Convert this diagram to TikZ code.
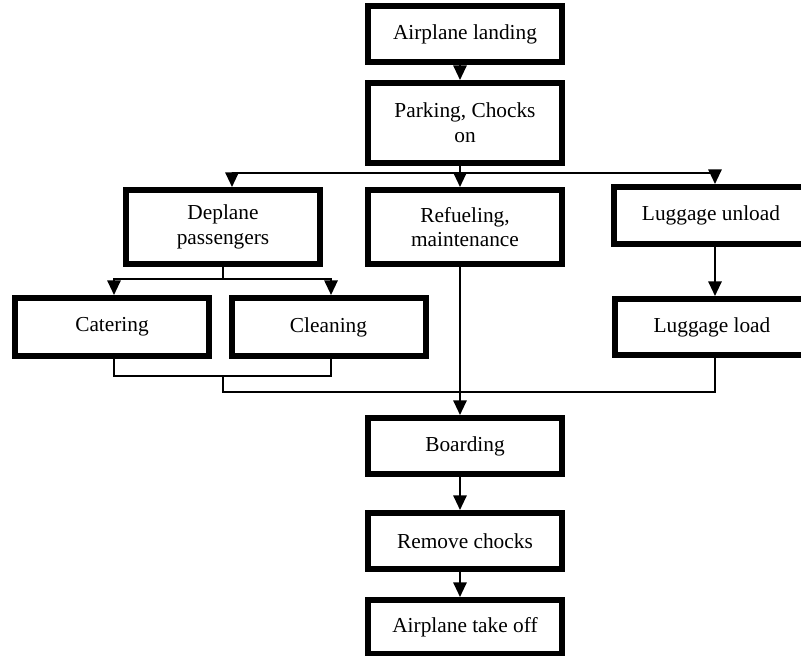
\documentclass[tikz,border=0pt]{standalone}
\usepackage{fontspec}
\setmainfont{Liberation Serif}
\usetikzlibrary{
	arrows.meta,
	positioning
}

\begin{document}
\begin{tikzpicture}[x=0.75pt,y=-0.75pt,>={Triangle[width=10pt,length=11pt]},
	stage/.style={draw,line width=4.5pt,minimum width=145.5pt,inner sep=0pt,
		align=center,font=\fontsize{16}{18.5}\selectfont},
	link/.style={line width=1.5pt}]
			
			\useasboundingbox (0,0) rectangle (801,656);
			
			\node[stage,minimum height=42pt] (land) at (465,34) {Airplane landing};
			\node[stage,minimum height=60pt] (park) at (465,123) {Parking, Chocks\\on};
			
			\node[stage,minimum height=55.5pt] (deplane) at (223,227) {Deplane\\passengers};
			\node[stage,minimum height=55.5pt] (refuel) at (465,227) {Refueling,\\maintenance};
			\node[stage,minimum height=42.75pt] (unload) at (711,215.5) {Luggage unload};
			
			\node[stage,minimum height=43.5pt] (catering) at (112,327) {Catering};
			\node[stage,minimum height=43.5pt] (cleaning) at (328.5,327) {Cleaning};
			\node[stage,minimum height=42pt] (load) at (712,327) {Luggage load};
			
			\node[stage,minimum height=42pt] (boarding) at (465,446) {Boarding};
			\node[stage,minimum height=42pt] (remove) at (465,541) {Remove chocks};
			\node[stage,minimum height=40.5pt] (takeoff) at (465,627) {Airplane take off};
			
			\coordinate (split) at (460,173);
			\coordinate (fork) at (223,279);
			\coordinate (join) at (223,376);
			\coordinate (merge) at (460,392);
			
			\draw[link,->] ([xshift=-3.75pt]land.south) -- ([xshift=-3.75pt]park.north);
			
			\draw[link] ([xshift=-3.75pt]park.south) -- (split);
			\draw[link,->] (split) -| ([xshift=6.75pt]deplane.north);
			\draw[link,->] (split) -- ([xshift=-3.75pt]refuel.north);
			\draw[link,->] (split) -| ([xshift=3pt]unload.north);
			
			\draw[link] (deplane.south) -- (fork);
			\draw[link,->] (fork) -| ([xshift=1.5pt]catering.north);
			\draw[link,->] (fork) -| ([xshift=1.9pt]cleaning.north);
			\draw[link,->] ([xshift=3pt]unload.south) -- ([xshift=2.25pt]load.north);
			
			\draw[link] ([xshift=1.5pt]catering.south) |- (join);
			\draw[link] ([xshift=1.9pt]cleaning.south) |- (join);
			\draw[link] (join) |- (merge);
			\draw[link] ([xshift=2.25pt]load.south) |- (merge);
			\draw[link,->] ([xshift=-3.75pt]refuel.south) -- ([xshift=-3.75pt]boarding.north);
			
			\draw[link,->] ([xshift=-3.75pt]boarding.south) -- ([xshift=-3.75pt]remove.north);
			\draw[link,->] ([xshift=-3.75pt]remove.south) -- ([xshift=-3.75pt]takeoff.north);
			
		\end{tikzpicture}
\end{document}
